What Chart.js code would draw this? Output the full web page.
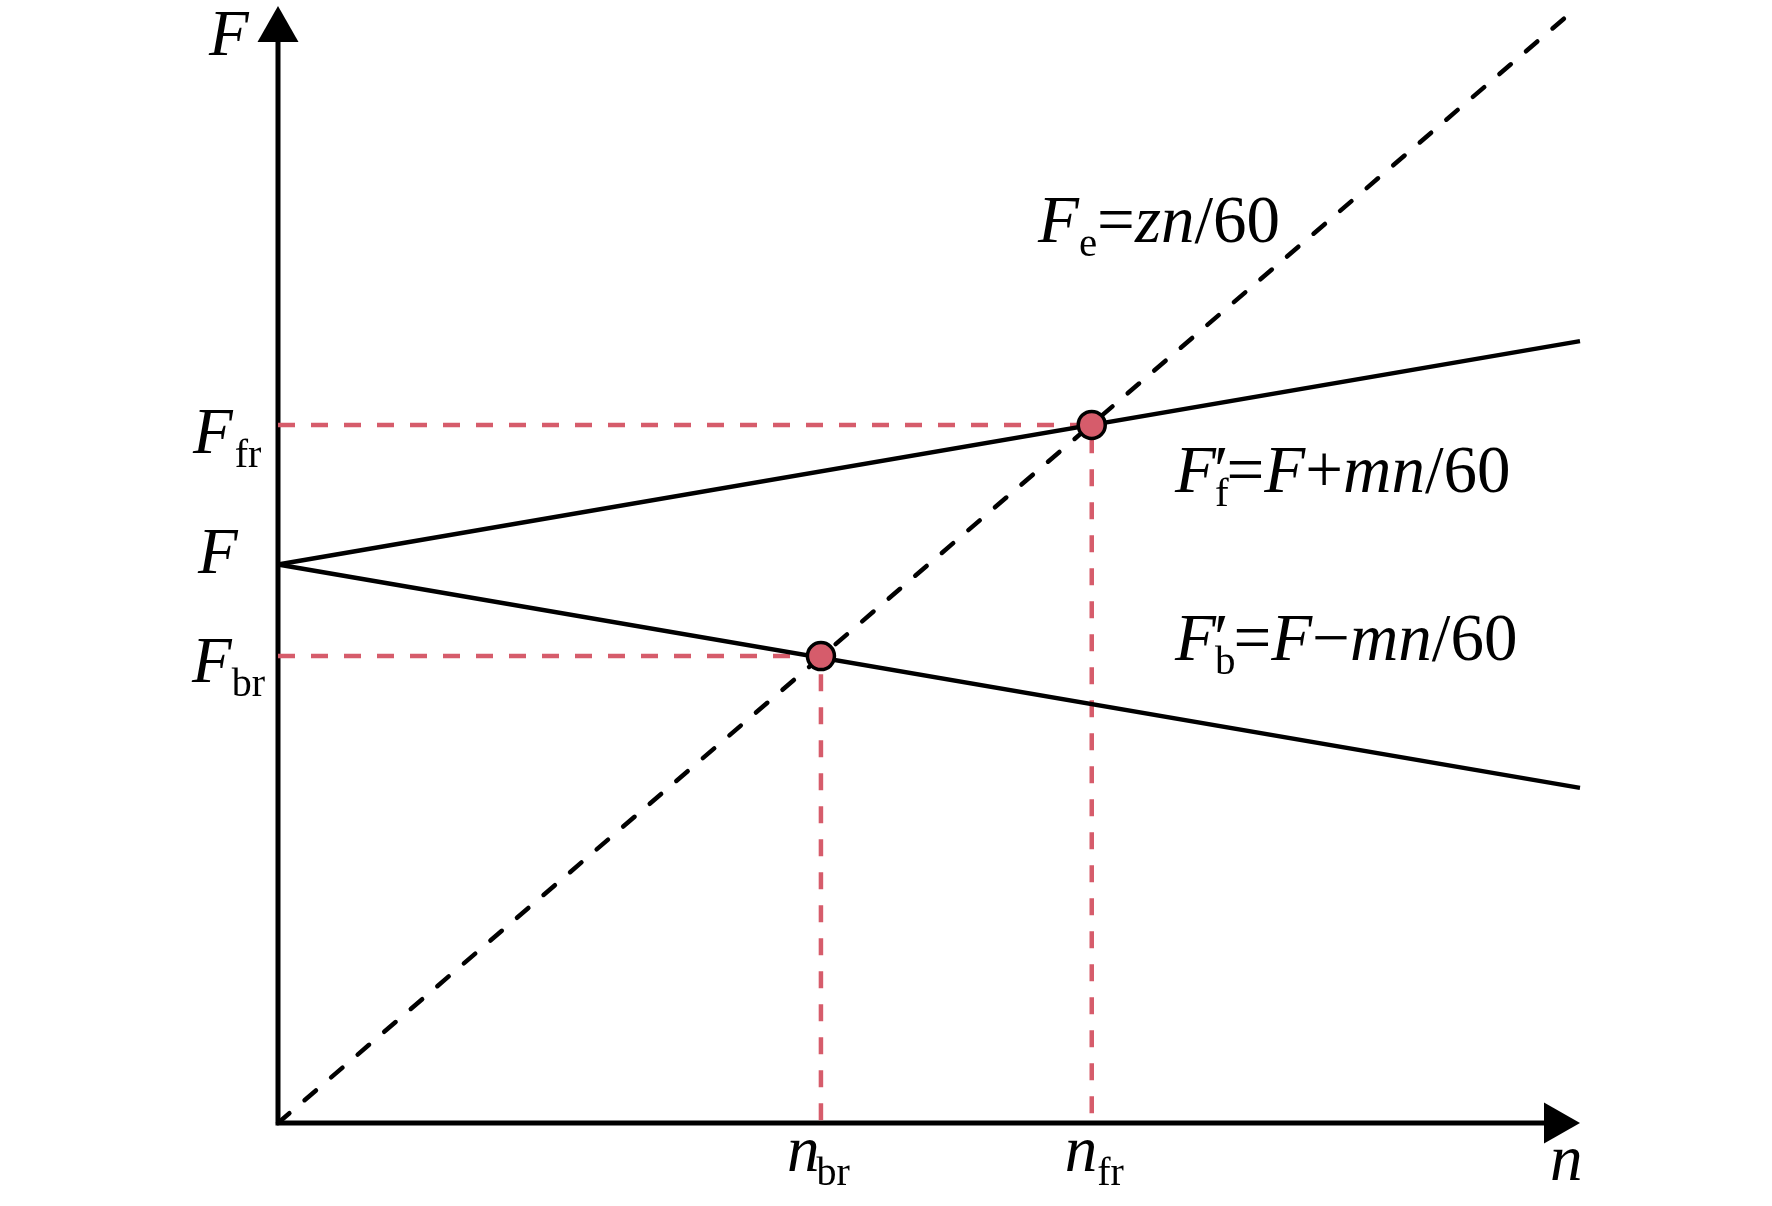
<!DOCTYPE html>
<html><head><meta charset="utf-8">
<script src="https://cdn.jsdelivr.net/npm/chart.js@4.4.1/dist/chart.umd.min.js"></script>
<style>html,body{margin:0;padding:0;background:#fff}#wrap{width:1772px;height:1206px;position:relative}</style>
</head><body><div id="wrap"><canvas id="c"></canvas></div>
<script>
// ---- data (axis units 0..100) ----
const feN = [0, 99.5];      // Fe = zn/60 (dashed)
const feF = [0, 99.6];
const ffN = [0, 100];       // F'f = F + mn/60
const ffF = [50, 70];
const fbN = [0, 100];       // F'b = F - mn/60
const fbF = [50, 30];
const crossN = [62.5, 41.7]; // n_fr, n_br
const crossF = [62.5, 41.8]; // F_fr, F_br

const RED = '#d65c6b';
const pts = (xs, ys) => xs.map((x, i) => ({x, y: ys[i]}));
const guide = i => [{x: 0, y: crossF[i]}, {x: crossN[i], y: crossF[i]}, {x: crossN[i], y: 0}];

const SERIF = '"Liberation Serif", "Times New Roman", serif';
const SUBOFF = 14;

function drawRuns(ctx, x, y, runs, MAIN = 65, SUB = 40) {
  for (const r of runs) {
    const size = r.sub ? SUB : MAIN;
    ctx.font = (r.it ? 'italic ' : '') + size + 'px ' + SERIF;
    const w = ctx.measureText(r.t).width;
    const dx = r.dx || 0;
    ctx.fillText(r.t, x + dx, y + (r.sub ? SUBOFF : 0) + (r.dy || 0));
    x += dx + (r.adv !== undefined ? r.adv : w);
  }
}

const axesPlugin = {
  id: 'axesArrows',
  beforeDatasetsDraw(chart) {
    const {ctx, scales: {x, y}} = chart;
    const x0 = x.getPixelForValue(0), y0 = y.getPixelForValue(0);
    const xt = x.getPixelForValue(100), yt = y.getPixelForValue(100);
    const L = 36, H = 20.5;
    ctx.save();
    ctx.strokeStyle = '#000'; ctx.fillStyle = '#000';
    ctx.lineWidth = 5; ctx.lineCap = 'square';
    ctx.beginPath();
    ctx.moveTo(x0, yt + L); ctx.lineTo(x0, y0); ctx.lineTo(xt - L, y0);
    ctx.stroke();
    ctx.beginPath();
    ctx.moveTo(x0, yt); ctx.lineTo(x0 - H, yt + L); ctx.lineTo(x0 + H, yt + L); ctx.closePath(); ctx.fill();
    ctx.beginPath();
    ctx.moveTo(xt, y0); ctx.lineTo(xt - L, y0 - H); ctx.lineTo(xt - L, y0 + H); ctx.closePath(); ctx.fill();
    ctx.restore();
  }
};

const textPlugin = {
  id: 'labels',
  afterDraw(chart) {
    const {ctx, scales: {x, y}} = chart;
    const x0 = x.getPixelForValue(0), y0 = y.getPixelForValue(0);
    ctx.save();
    ctx.fillStyle = '#000'; ctx.textBaseline = 'alphabetic'; ctx.textAlign = 'left';
    // axis names
    drawRuns(ctx, x0 - 69, 55, [{t: 'F', it: 1}]);
    drawRuns(ctx, x.getPixelForValue(100) - 30, y0 + 57, [{t: 'n', it: 1}]);
    // y-side labels
    drawRuns(ctx, x0 - 85, y.getPixelForValue(crossF[0]) + 28, [{t: 'F', it: 1}, {t: 'fr', sub: 1, dx: 2}]);
    drawRuns(ctx, x0 - 80, y.getPixelForValue(ffF[0]) + 8, [{t: 'F', it: 1}]);
    drawRuns(ctx, x0 - 86, y.getPixelForValue(crossF[1]) + 26, [{t: 'F', it: 1}, {t: 'br', sub: 1}]);
    // x-side labels
    drawRuns(ctx, x.getPixelForValue(crossN[1]) - 34, y0 + 48, [{t: 'n', it: 1}, {t: 'br', sub: 1, dx: -3}]);
    drawRuns(ctx, x.getPixelForValue(crossN[0]) - 27, y0 + 48, [{t: 'n', it: 1}, {t: 'fr', sub: 1}]);
    // formulas
    drawRuns(ctx, 1038, 242, [{t: 'F', it: 1}, {t: 'e', sub: 1}, {t: '='}, {t: 'z', it: 1}, {t: 'n', it: 1}, {t: '/60'}], 67, 41);
    drawRuns(ctx, 1175, 492, [{t: 'F', it: 1}, {t: '\u2032', dx: -2, adv: 0}, {t: 'f', sub: 1, dx: 1}, {t: '=', dx: -2}, {t: 'F', it: 1}, {t: '+'}, {t: 'm', it: 1}, {t: 'n', it: 1}, {t: '/60'}], 67, 41);
    drawRuns(ctx, 1175, 660, [{t: 'F', it: 1}, {t: '\u2032', dx: -2, adv: 0}, {t: 'b', sub: 1, dx: 1}, {t: '=', dx: -2}, {t: 'F', it: 1}, {t: '\u2212'}, {t: 'm', it: 1}, {t: 'n', it: 1}, {t: '/60'}], 67, 41);
    ctx.restore();
  }
};

new Chart(document.getElementById('c'), {
  type: 'scatter',
  data: {
    datasets: [
      {data: guide(0), showLine: true, borderColor: RED, borderWidth: 4.5, borderDash: [17, 16], pointRadius: 0, clip: false, order: 5},
      {data: guide(1), showLine: true, borderColor: RED, borderWidth: 4.5, borderDash: [17, 16], pointRadius: 0, clip: false, order: 5},
      {data: pts(feN, feF), showLine: true, borderColor: '#000', borderWidth: 4.5, borderDash: [15, 20], borderCapStyle: 'round', pointRadius: 0, clip: false, order: 4},
      {data: pts(ffN, ffF), showLine: true, borderColor: '#000', borderWidth: 4.5, pointRadius: 0, clip: false, order: 3},
      {data: pts(fbN, fbF), showLine: true, borderColor: '#000', borderWidth: 4.5, pointRadius: 0, clip: false, order: 3},
      {data: pts(crossN, crossF), showLine: false, backgroundColor: RED, borderColor: '#000', borderWidth: 3.5, pointRadius: 13.5, pointHoverRadius: 13.5, clip: false, order: 1}
    ]
  },
  options: {
    responsive: true, maintainAspectRatio: false, animation: false,
    layout: {autoPadding: false, padding: {left: 278, right: 192, top: 6, bottom: 83}},
    plugins: {legend: {display: false}, tooltip: {enabled: false}},
    events: [],
    scales: {
      x: {type: 'linear', min: 0, max: 100, display: false},
      y: {type: 'linear', min: 0, max: 100, display: false}
    }
  },
  plugins: [axesPlugin, textPlugin]
});
</script></body></html>
